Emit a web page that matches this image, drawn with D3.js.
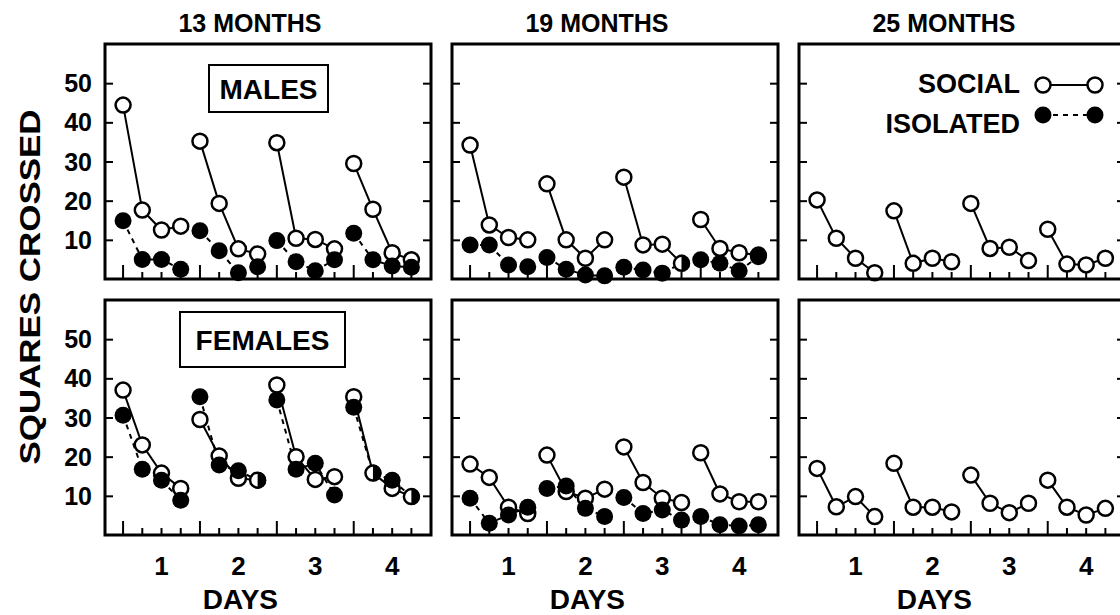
<!DOCTYPE html>
<html>
<head>
<meta charset="utf-8">
<script src="https://cdn.jsdelivr.net/npm/d3@7"></script>
<style>
body { margin: 0; background: #fff; }
svg { display: block; }
text { font-family: "Liberation Sans", Arial, sans-serif; font-weight: bold; fill: #000; }
</style>
</head>
<body>
<div id="chart"></div>
<script>
// ages across, sexes down, 4 days x 4 trials per panel
const ages = ["13 MONTHS", "19 MONTHS", "25 MONTHS"];
const sexes = ["MALES", "FEMALES"];
const days = [1, 2, 3, 4];
const trialsPerDay = [1, 2, 3, 4];
const yTicks = [10, 20, 30, 40, 50];

// squares crossed (day1 t1..t4, day2 t1..t4, ...)
const males13Social   = [44.4, 17.6, 12.5, 13.5, 35.2, 19.3, 7.7, 6.4, 34.8, 10.4, 10.1, 7.7, 29.5, 17.8, 6.7, 4.9];
const males13Isolated = [14.9, 5.0, 5.0, 2.5, 12.3, 7.2, 1.6, 3.1, 9.8, 4.4, 2.1, 4.9, 11.7, 4.9, 3.3, 3.0];
const males19Social   = [34.2, 13.8, 10.6, 10.0, 24.3, 10.0, 5.3, 10.0, 26.0, 8.7, 8.9, 4.0, 15.2, 7.8, 6.7, 6.1];
const males19Isolated = [8.7, 8.7, 3.6, 3.1, 5.5, 2.5, 1.0, 0.8, 3.0, 2.3, 1.5, 4.0, 4.9, 4.0, 2.1, 5.7];
const males25Social   = [20.2, 10.4, 5.3, 1.6, 17.4, 4.0, 5.3, 4.4, 19.3, 7.8, 8.1, 4.7, 12.7, 3.8, 3.6, 5.3];

const females13Social   = [37.0, 23.0, 15.8, 11.9, 29.5, 20.2, 14.5, 14.0, 38.3, 20.0, 14.2, 14.9, 35.3, 15.8, 11.9, 9.8];
const females13Isolated = [30.6, 16.8, 14.0, 8.9, 35.3, 17.9, 16.4, 14.0, 34.5, 16.8, 18.3, 10.2, 32.6, 15.8, 14.0, 9.8];
const females19Social   = [18.1, 14.7, 7.1, 5.5, 20.4, 11.1, 9.4, 11.7, 22.5, 13.4, 9.4, 8.3, 21.0, 10.5, 8.5, 8.5];
const females19Isolated = [9.4, 3.0, 5.1, 7.1, 11.9, 12.5, 6.8, 4.7, 9.6, 5.5, 6.4, 3.8, 4.7, 2.6, 2.3, 2.6];
const females25Social   = [17.0, 7.2, 9.8, 4.7, 18.3, 7.1, 7.1, 5.9, 15.3, 8.1, 5.7, 8.1, 14.0, 7.1, 5.1, 6.8];

const panels = [
	{ row: 0, col: 0, social: males13Social, isolated: males13Isolated },
	{ row: 0, col: 1, social: males19Social, isolated: males19Isolated },
	{ row: 0, col: 2, social: males25Social, isolated: null },
	{ row: 1, col: 0, social: females13Social, isolated: females13Isolated },
	{ row: 1, col: 1, social: females19Social, isolated: females19Isolated },
	{ row: 1, col: 2, social: females25Social, isolated: null }
];

const width = 1120, height = 615;
const panelW = 326, panelH = 235;
const lefts = [105, 452, 799], tops = [44, 300];
const r = 7.5;

const svg = d3.select("#chart").append("svg")
	.attr("width", width)
	.attr("height", height);

const x = d3.scaleLinear().domain([-0.94, 16.02]).range([0, panelW]);
const y = d3.scaleLinear().domain([0, 60]).range([panelH, 0]);

// trial index 0..15 from day / trial
const idx = (day, trial) => (day - 1) * trialsPerDay.length + (trial - 1);

function toPoints(values, day)
{
	return trialsPerDay.map(t => ({ i: idx(day, t), v: values[idx(day, t)] }));
}

function createPanel(p)
{
	const g = svg.append("g").attr("transform", `translate(${lefts[p.col]},${tops[p.row]})`);

	// y ticks, inward on both sides
	g.append("g").call(d3.axisLeft(y).tickValues(yTicks).tickSize(-8).tickFormat(""))
		.call(a => a.select(".domain").remove())
		.selectAll("line").attr("stroke", "#000").attr("stroke-width", 2);
	g.append("g").attr("transform", `translate(${panelW},0)`)
		.call(d3.axisRight(y).tickValues(yTicks).tickSize(-8).tickFormat(""))
		.call(a => a.select(".domain").remove())
		.selectAll("line").attr("stroke", "#000").attr("stroke-width", 2);

	// x ticks: tall at first trial of each day
	const ticks = days.flatMap(d => trialsPerDay.map(t => ({ i: idx(d, t), first: t === 1 })));
	g.selectAll(".xtick").data(ticks).enter().append("line")
		.attr("x1", d => x(d.i)).attr("x2", d => x(d.i))
		.attr("y1", panelH).attr("y2", d => panelH - (d.first ? 14 : 7))
		.attr("stroke", "#000").attr("stroke-width", 2);

	if (p.col === 0)
	{
		g.selectAll(".ylab").data(yTicks).enter().append("text")
			.attr("x", -13).attr("y", d => y(d) + 9)
			.attr("text-anchor", "end")
			.style("font-size", "25px")
			.text(d => d);
	}

	const line = d3.line().x(d => x(d.i)).y(d => y(d.v));

	days.forEach(day =>
	{
		g.append("path").datum(toPoints(p.social, day))
			.attr("d", line).attr("fill", "none").attr("stroke", "#000").attr("stroke-width", 2);
		if (p.isolated)
		{
			g.append("path").datum(toPoints(p.isolated, day))
				.attr("d", line).attr("fill", "none").attr("stroke", "#000").attr("stroke-width", 2)
				.attr("stroke-dasharray", "5,5");
		}
	});

	const all = days.flatMap(d => toPoints(p.social, d));
	g.selectAll(".soc").data(all).enter().append("circle")
		.attr("cx", d => x(d.i)).attr("cy", d => y(d.v)).attr("r", r)
		.attr("fill", "#fff").attr("stroke", "#000").attr("stroke-width", 2.5);

	if (p.isolated)
	{
		const iso = days.flatMap(d => toPoints(p.isolated, d));
		iso.forEach(d => d.same = Math.abs(d.v - p.social[d.i]) < 0.05);
		g.selectAll(".iso").data(iso.filter(d => !d.same)).enter().append("circle")
			.attr("cx", d => x(d.i)).attr("cy", d => y(d.v)).attr("r", r + 1)
			.attr("fill", "#000");
		// coincident points: half filled
		g.selectAll(".half").data(iso.filter(d => d.same)).enter().append("path")
			.attr("transform", d => `translate(${x(d.i)},${y(d.v)})`)
			.attr("d", d3.arc().innerRadius(0).outerRadius(r + 1).startAngle(0).endAngle(Math.PI)())
			.attr("fill", "#000");
	}

	// frame
	g.append("rect").attr("width", panelW).attr("height", panelH)
		.attr("fill", "none").attr("stroke", "#000").attr("stroke-width", 3);

	if (p.row === 1)
	{
		g.selectAll(".daylab").data(days).enter().append("text")
			.attr("x", d => x(idx(d, 3))).attr("y", panelH + 40)
			.attr("text-anchor", "middle")
			.style("font-family", "'Liberation Sans Narrow', 'Liberation Sans', sans-serif")
			.style("font-size", "26px")
			.text(d => d);
		g.append("text")
			.attr("x", x(idx(2, 3)) + 2).attr("y", panelH + 74)
			.attr("text-anchor", "middle")
			.style("font-family", "'Liberation Sans Narrow', 'Liberation Sans', sans-serif")
			.style("font-size", "28px")
			.text("DAYS");
	}
	return g;
}

const groups = panels.map(createPanel);

// column titles
ages.forEach((a, c) =>
{
	svg.append("text")
		.attr("x", lefts[c] + 145).attr("y", 32)
		.attr("text-anchor", "middle")
		.style("font-size", "25px")
		.text(a);
});

// sex labels in boxed captions
const boxes = [
	{ g: groups[0], text: sexes[0], x: 104, y: 21, w: 119, h: 47, fs: 28 },
	{ g: groups[3], text: sexes[1], x: 75, y: 12, w: 165, h: 55, fs: 28 }
];
boxes.forEach(b =>
{
	b.g.append("rect").attr("x", b.x).attr("y", b.y).attr("width", b.w).attr("height", b.h)
		.attr("fill", "#fff").attr("stroke", "#000").attr("stroke-width", 2);
	b.g.append("text").attr("x", b.x + b.w / 2).attr("y", b.y + b.h / 2 + 10)
		.attr("text-anchor", "middle").style("font-size", b.fs + "px").text(b.text);
});

// y axis title
svg.append("text")
	.attr("transform", "translate(40,287) rotate(-90)")
	.attr("text-anchor", "middle")
	.style("font-size", "29px")
	.attr("textLength", 355).attr("lengthAdjust", "spacingAndGlyphs")
	.text("SQUARES CROSSED");

// legend in the 25 months panel
const lg = groups[2];
const legendRows = [
	{ label: "SOCIAL", y: 41, filled: false },
	{ label: "ISOLATED", y: 71, filled: true }
];
legendRows.forEach(l =>
{
	lg.append("line").attr("x1", 244).attr("x2", 296).attr("y1", l.y).attr("y2", l.y)
		.attr("stroke", "#000").attr("stroke-width", 2)
		.attr("stroke-dasharray", l.filled ? "5,5" : null);
	[244, 296].forEach(cx =>
	{
		lg.append("circle").attr("cx", cx).attr("cy", l.y).attr("r", l.filled ? r + 1 : r)
			.attr("fill", l.filled ? "#000" : "#fff").attr("stroke", l.filled ? "none" : "#000")
			.attr("stroke-width", 2.5);
	});
	lg.append("text").attr("x", 221).attr("y", l.y + (l.filled ? 18 : 8))
		.attr("text-anchor", "end").style("font-size", "27px").text(l.label);
});
</script>
</body>
</html>
